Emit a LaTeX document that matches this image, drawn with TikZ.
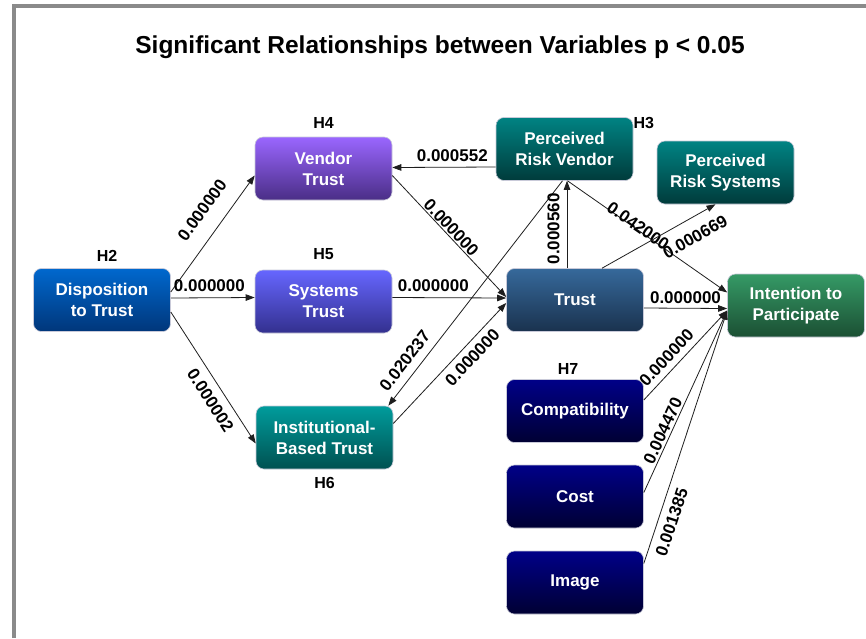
\documentclass[tikz,border=0pt]{standalone}
\usepackage{fontspec}
\setmainfont{Liberation Sans}
\usepackage{tikz}
\usetikzlibrary{arrows.meta,calc,positioning}
\definecolor{ink}{HTML}{1E1E1E}
\definecolor{framegray}{HTML}{8A8A8A}
\definecolor{boxedge}{HTML}{C9CAD9}
\definecolor{dispA}{HTML}{0068CE}
\definecolor{dispB}{HTML}{00367A}
\definecolor{vendA}{HTML}{9A66FF}
\definecolor{vendB}{HTML}{4A2E86}
\definecolor{systA}{HTML}{6666FF}
\definecolor{systB}{HTML}{33308E}
\definecolor{instA}{HTML}{009C9C}
\definecolor{instB}{HTML}{005151}
\definecolor{riskA}{HTML}{008383}
\definecolor{riskB}{HTML}{003B3B}
\definecolor{trustA}{HTML}{36699B}
\definecolor{trustB}{HTML}{1A324E}
\definecolor{intA}{HTML}{359A66}
\definecolor{intB}{HTML}{1B4F33}
\definecolor{navyA}{HTML}{000088}
\definecolor{navyB}{HTML}{000033}

\begin{document}
\begin{tikzpicture}[x=1pt,y=-1pt,>={Triangle[length=9pt,width=6.5pt]},
  var/.style={rectangle,rounded corners=8pt,draw=boxedge,line width=.6pt,
             minimum width=137pt,minimum height=63pt,inner sep=2pt,
             align=center,text=white,font=\fontsize{17}{21}\selectfont\bfseries},
  bluebox/.style={var,top color=dispA,bottom color=dispB},
  vendbox/.style={var,top color=vendA,bottom color=vendB},
  systbox/.style={var,top color=systA,bottom color=systB},
  instbox/.style={var,top color=instA,bottom color=instB},
  riskbox/.style={var,top color=riskA,bottom color=riskB},
  trustbox/.style={var,top color=trustA,bottom color=trustB},
  intbox/.style={var,top color=intA,bottom color=intB},
  navybox/.style={var,top color=navyA,bottom color=navyB},
  hyp/.style={font=\fontsize{16}{16}\selectfont\bfseries,inner sep=0pt},
  conn/.style={->,ink,line width=.8pt},
  pv/.style={font=\fontsize{17}{17}\selectfont\bfseries,inner sep=1pt,text=black}
]
\fill[white] (0,0) rectangle (866,638);
\useasboundingbox (0,0) rectangle (866,638);
\draw[framegray,line width=4pt] (13.5,638) -- (13.5,6) -- (866,6);

\node[font=\fontsize{24.5}{24.5}\selectfont\bfseries] (title) at (440,47)
  {Significant Relationships between Variables p < 0.05};

% variables
\node[bluebox] (disp) at (102,300) {Disposition\\to Trust};
\node[vendbox] (vt) at (323.5,168.5) {Vendor\\Trust};
\node[systbox] (st) at (323.5,301.5) {Systems\\Trust};
\node[instbox] (ibt) at (324.5,437.5) {Institutional-\\Based Trust};
\node[riskbox] (prv) at (564.5,149) {Perceived\\Risk Vendor};
\node[riskbox] (prs) at (725.5,172.5) {Perceived\\Risk Systems};
\node[trustbox] (trust) at (575,300) {Trust};
\node[intbox] (itp) at (796,305.5) {Intention to\\Participate};
\node[navybox] (comp) at (575,411) {Compatibility};
\node[navybox] (cost) at (575,496.5) {Cost};
\node[navybox] (img) at (575,582.5) {Image};

% hypotheses
\node[hyp,above=7pt of disp,xshift=5pt] {H2};
\node[hyp,anchor=north west] at (prv.north east) {H3};
\node[hyp,above=8pt of vt] {H4};
\node[hyp,above=10pt of st] {H5};
\node[hyp,below=8pt of ibt] {H6};
\node[hyp,above=5pt of comp,xshift=-7pt] {H7};

% paths
\draw[conn] ([yshift=8]disp.east) -- ([yshift=-7]vt.west)
  node[pv,pos=.59,sloped,above=15pt] {0.000000};
\draw[conn] ([yshift=2]disp.east) -- ([yshift=4]st.west)
  node[pv,pos=.46,above=5pt] {0.000000};
\draw[conn] ([yshift=-12]disp.east) -- ([yshift=-6]ibt.west)
  node[pv,pos=.61,sloped,below=7pt] {0.000002};
\draw[conn] ([yshift=-18]prv.west) -- ([yshift=1]vt.east)
  node[pv,pos=.42,above=4pt] {0.000552};
\draw[conn] ([yshift=-7]vt.east) -- ([yshift=3]trust.west)
  node[pv,pos=.47,sloped,above=0pt] {0.000000};
\draw[conn] ([yshift=4]st.east) -- ([yshift=2]trust.west)
  node[pv,pos=.36,above=5pt] {0.000000};
\draw[conn] ([yshift=14]ibt.east) -- ([yshift=-3]trust.west)
  node[pv,pos=.62,sloped,below=5pt] {0.000000};
\draw[conn,<-] ([xshift=-5]ibt.north east) -- ([xshift=-2]prv.south)
  node[pv,pos=.16,sloped,above=7pt] {0.020237};
\draw[conn] ([xshift=-8]trust.north) -- ([xshift=-8]trust.north |- prv.south)
  node[pv,pos=.45,sloped,above=6pt] {0.000560};
\draw[conn] ([xshift=3]prv.south) -- ([yshift=13]itp.west)
  node[pv,pos=.43,sloped,above=-4pt] {0.042000};
\draw[conn] ([xshift=27]trust.north) -- ([xshift=-10]prs.south)
  node[pv,pos=.74,sloped,below=11pt] {0.000669};
\draw[conn] ([yshift=-8]trust.east) -- ([yshift=-3]itp.west)
  node[pv,pos=.5,above=3pt] {0.000000};
\draw[conn] ([yshift=11]comp.east) -- ([yshift=-5]itp.west)
  node[pv,pos=.38,sloped,above=5pt] {0.000000};
\draw[conn] ([yshift=4]cost.east) -- ([yshift=-5]itp.west)
  node[pv,pos=.32,sloped,above=1pt] {0.004470};
\draw[conn] ([yshift=19]img.east) -- ([yshift=-5]itp.west)
  node[pv,pos=.18,sloped,below=6pt] {0.001385};
\end{tikzpicture}
\end{document}
